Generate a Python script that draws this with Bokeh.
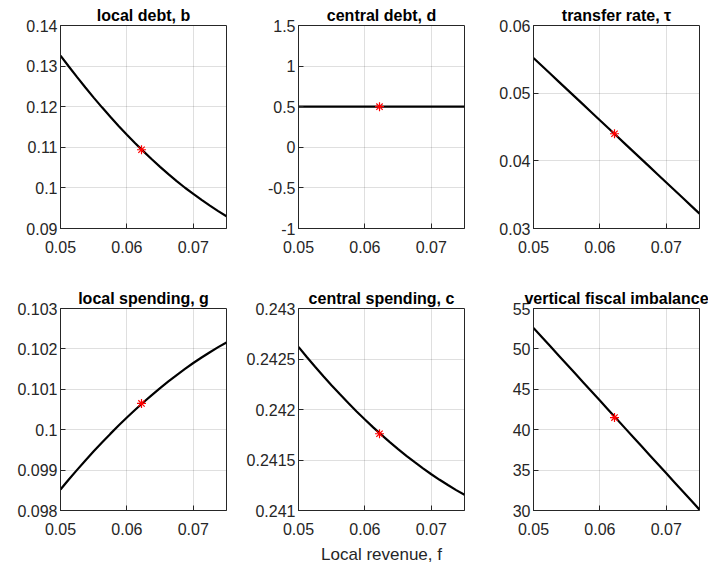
from bokeh.plotting import figure
from bokeh.layouts import gridplot
from bokeh.models import Range1d, FixedTicker
from bokeh.embed import file_html
from bokeh.resources import INLINE

# ---------------- data ----------------
f_vals = [0.05, 0.05125, 0.0525, 0.05375, 0.055, 0.05625, 0.0575, 0.05875, 0.06, 0.06125,
          0.0625, 0.06375, 0.065, 0.06625, 0.0675, 0.06875, 0.07, 0.07125, 0.0725, 0.07375, 0.075]

local_debt_b = [0.13260, 0.12990, 0.12727, 0.12472, 0.12224, 0.11984, 0.11752, 0.11527, 0.11310, 0.11101,
                0.10899, 0.10705, 0.10518, 0.10339, 0.10168, 0.10004, 0.09855, 0.09705, 0.09562, 0.09428, 0.09300]
central_debt_d = [0.5] * 21
transfer_rate_tau = [0.0552, 0.05405, 0.0529, 0.05175, 0.0506, 0.04945, 0.0483, 0.04715, 0.0460, 0.04485,
                     0.0437, 0.04255, 0.0414, 0.04025, 0.0391, 0.03795, 0.0368, 0.03565, 0.0345, 0.03335, 0.0322]
local_spending_g = [0.098520, 0.098766, 0.099006, 0.099239, 0.099465, 0.099684, 0.099896, 0.100102, 0.100301, 0.100493,
                    0.100679, 0.100857, 0.101029, 0.101194, 0.101353, 0.101504, 0.101651, 0.101787, 0.101918, 0.102043, 0.102160]
central_spending_c = [0.242620, 0.242520, 0.242424, 0.242329, 0.242238, 0.242150, 0.242064, 0.241981, 0.241901, 0.241823,
                      0.241749, 0.241677, 0.241608, 0.241541, 0.241478, 0.241417, 0.241359, 0.241304, 0.241252, 0.241202, 0.241155]
vertical_imbalance = [52.6, 51.475, 50.35, 49.225, 48.1, 46.975, 45.85, 44.725, 43.6, 42.475,
                      41.35, 40.225, 39.1, 37.975, 36.85, 35.725, 34.6, 33.475, 32.35, 31.225, 30.1]

marker_f = 0.0622
marker_b = 0.1094
marker_d = 0.5
marker_tau = 0.0440
marker_g = 0.10065
marker_c = 0.24176
marker_vfi = 41.5

titles = ["local debt, b", "central debt, d", "transfer rate, \u03c4",
          "local spending, g", "central spending, c", "vertical fiscal imbalance"]
x_label = "Local revenue, f"

x_ticks = [0.05, 0.06, 0.07]
x_tick_labels = ["0.05", "0.06", "0.07"]

b_ticks = [0.09, 0.10, 0.11, 0.12, 0.13, 0.14]
b_tick_labels = ["0.09", "0.1", "0.11", "0.12", "0.13", "0.14"]
d_ticks = [-1.0, -0.5, 0.0, 0.5, 1.0, 1.5]
d_tick_labels = ["-1", "-0.5", "0", "0.5", "1", "1.5"]
tau_ticks = [0.03, 0.04, 0.05, 0.06]
tau_tick_labels = ["0.03", "0.04", "0.05", "0.06"]
g_ticks = [0.098, 0.099, 0.100, 0.101, 0.102, 0.103]
g_tick_labels = ["0.098", "0.099", "0.1", "0.101", "0.102", "0.103"]
c_ticks = [0.241, 0.2415, 0.242, 0.2425, 0.243]
c_tick_labels = ["0.241", "0.2415", "0.242", "0.2425", "0.243"]
vfi_ticks = [30, 35, 40, 45, 50, 55]
vfi_tick_labels = ["30", "35", "40", "45", "50", "55"]

# ---------------- styling ----------------
FONT = "Liberation Sans"
AX = "#262626"


def make_panel(title, yvals, mf, mv, yticks, ylabels, left_border, right_border,
               top_border, bottom_border, frame_h, xlabel=None):
    p = figure(frame_width=166, frame_height=frame_h,
               x_range=Range1d(x_ticks[0], 0.075),
               y_range=Range1d(yticks[0], yticks[-1]),
               output_backend="svg", toolbar_location=None,
               min_border_left=left_border, min_border_right=right_border,
               min_border_top=top_border, min_border_bottom=bottom_border,
               background_fill_color="white", border_fill_color="white")
    p.outline_line_color = AX
    p.outline_line_width = 1
    p.outline_line_alpha = 1

    p.title.text = title
    p.title.align = "center"
    p.title.text_font = FONT
    p.title.text_font_size = "16px"
    p.title.text_font_style = "bold"
    p.title.text_color = "black"
    p.title.standoff = 3

    p.xaxis.ticker = FixedTicker(ticks=x_ticks)
    p.xaxis.major_label_overrides = dict(zip(x_ticks, x_tick_labels))
    p.yaxis.ticker = FixedTicker(ticks=yticks)
    p.yaxis.major_label_overrides = dict(zip(yticks, ylabels))

    for ax in (p.xaxis, p.yaxis):
        ax.axis_line_color = AX
        ax.major_tick_line_color = AX
        ax.major_tick_in = 5
        ax.major_tick_out = 0
        ax.minor_tick_line_color = None
        ax.major_label_text_font = FONT
        ax.major_label_text_font_size = "16px"
        ax.major_label_text_color = AX
    p.xaxis.major_label_standoff = 12
    p.yaxis.major_label_standoff = 3

    if xlabel:
        p.xaxis.axis_label = xlabel
        p.xaxis.axis_label_text_font = FONT
        p.xaxis.axis_label_text_font_size = "17px"
        p.xaxis.axis_label_text_font_style = "normal"
        p.xaxis.axis_label_text_color = AX
        p.xaxis.axis_label_standoff = 7

    p.grid.grid_line_color = AX
    p.grid.grid_line_alpha = 0.15
    p.grid.grid_line_width = 1

    p.line(f_vals, yvals, line_color="black", line_width=2.2)
    p.scatter([mf], [mv], marker="asterisk", size=9, line_color="red",
              line_width=1.2)
    return p


p1 = make_panel(titles[0], local_debt_b, marker_f, marker_b, b_ticks, b_tick_labels, 60, 17, 25, 56, 203)
p2 = make_panel(titles[1], central_debt_d, marker_f, marker_d, d_ticks, d_tick_labels, 52, 17, 25, 56, 203)
p3 = make_panel(titles[2], transfer_rate_tau, marker_f, marker_tau, tau_ticks, tau_tick_labels, 52, 10, 25, 56, 203)
p4 = make_panel(titles[3], local_spending_g, marker_f, marker_g, g_ticks, g_tick_labels, 60, 17, 24, 50, 202)
p5 = make_panel(titles[4], central_spending_c, marker_f, marker_c, c_ticks, c_tick_labels, 52, 17, 24, 50, 202, xlabel=x_label)
p6 = make_panel(titles[5], vertical_imbalance, marker_f, marker_vfi, vfi_ticks, vfi_tick_labels, 52, 10, 24, 50, 202)

grid = gridplot([[p1, p2, p3], [p4, p5, p6]], toolbar_location=None)

open("out.html", "w").write(file_html(grid, INLINE))
